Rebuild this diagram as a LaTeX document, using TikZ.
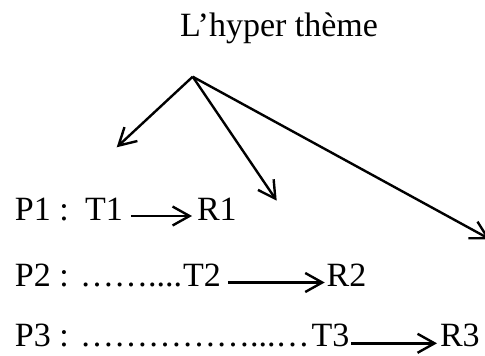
\documentclass[tikz,border=0pt]{standalone}
\usepackage{fontspec}
\setmainfont{Liberation Serif}
\usetikzlibrary{arrows.meta}
\begin{document}
\begin{tikzpicture}[x=1pt,y=-1pt,
  txt/.style={inner sep=0pt, outer sep=0pt, anchor=base west, font=\fontsize{34}{40}\selectfont},
  arr/.style={line width=2.4pt, -{Straight Barb[length=17pt,width=19pt]}}]
\useasboundingbox (0,0) rectangle (485,356);
% title and fan of arrows
\node[txt] (title) at (180,36) {L’hyper thème};
\coordinate (apex) at (192.7,76.7);
\coordinate (e1) at (116.7,147.3);
\coordinate (e2) at (276.7,200.7);
\coordinate (e3) at (490,239.3);
\draw[arr] (apex) -- (e1);
\draw[arr] (apex) -- (e2);
\draw[arr] (apex) -- (e3);
% line 1
\node[txt] (p1) at (15,220) {P1 :};
\node[txt] (t1) at (85,220) {T1};
\node[txt] (r1) at (197,220) {R1};
\draw[arr] ([xshift=8pt,yshift=4pt]t1.base east) -- ([xshift=-5pt,yshift=4pt]r1.base west);
% line 2
\node[txt] (p2) at (15,286.7) {P2 : ……....};
\node[txt] (t2) at (183,286.7) {T2};
\node[txt] (r2) at (326.7,286.7) {R2};
\draw[arr] ([xshift=7pt,yshift=4.2pt]t2.base east) -- ([xshift=-2pt,yshift=4.2pt]r2.base west);
% line 3
\node[txt] (p3) at (15,346.7) {P3 : ……………...…};
\node[txt] (t3) at (311.7,346.7) {T3};
\node[txt] (r3) at (440,346.7) {R3};
\draw[arr] ([xshift=2pt,yshift=3.4pt]t3.base east) -- ([xshift=-3pt,yshift=3.4pt]r3.base west);
\end{tikzpicture}
\end{document}
